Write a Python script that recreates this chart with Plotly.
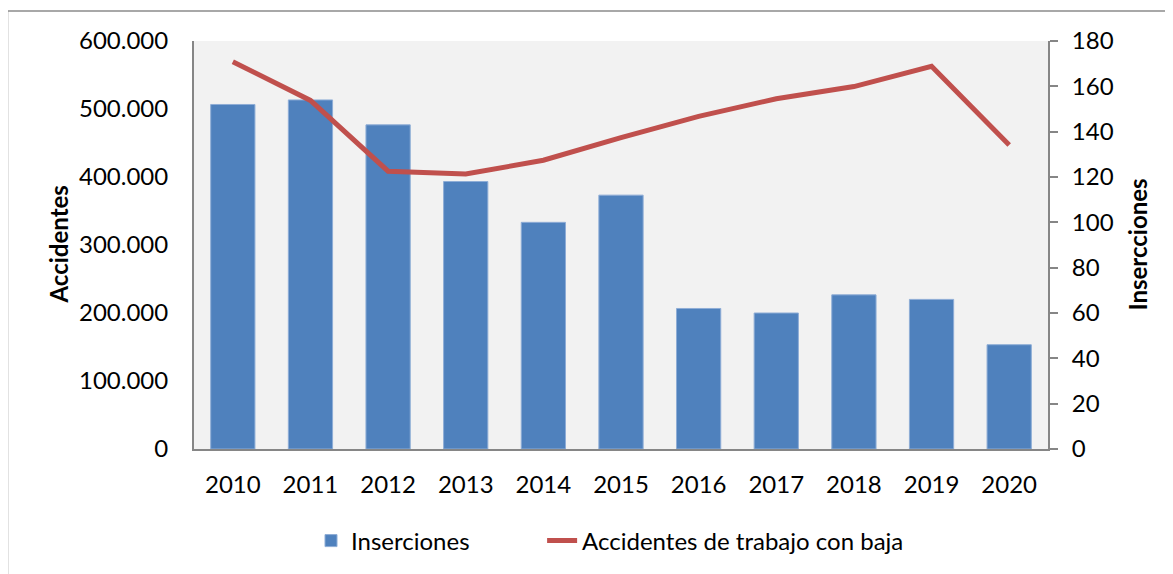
import plotly.graph_objects as go

years = ["2010", "2011", "2012", "2013", "2014", "2015", "2016", "2017", "2018", "2019", "2020"]
inserciones = [152, 154, 143, 118, 100, 112, 62, 60, 68, 66, 46]
accidentes = [569500, 512600, 408500, 404300, 424600, 458000, 489100, 515100, 533000, 562800, 447000]

# page has an 8px body margin; work in page pixels and compensate
OFF = 8
W, H = 1173 - OFF, 574 - OFF
L, T = 194 - OFF, 41 - OFF
R = W - (1048 - OFF)
B = H - (450 - OFF)
pw, ph = W - L - R, H - T - B

FONT = "Lato"
AX = "#868686"
FS = 24

fig = go.Figure()
fig.add_trace(go.Bar(
    x=years, y=inserciones, name="Inserciones" + "\u00a0" * 11, yaxis="y",
    marker=dict(color="#4F81BD", line=dict(color="#8EADD6", width=1)),
))
fig.add_trace(go.Scatter(
    x=years, y=accidentes, name="Accidentes de trabajo con baja", yaxis="y2",
    mode="lines", line=dict(color="#C0504D", width=5),
))

def px_x(p):  # page pixel -> paper
    return (p - OFF - L) / pw

def px_y(p):
    return (H - B - (p - OFF)) / ph

fig.update_layout(
    width=W, height=H,
    margin=dict(l=L, r=R, t=T, b=B, pad=0),
    paper_bgcolor="white", plot_bgcolor="#F2F2F2",
    separators=",.",
    font=dict(family=FONT, size=FS, color="black"),
    bargap=0.43,
    showlegend=True,
    legend=dict(orientation="h", x=px_x(311), xanchor="left", y=px_y(541), yanchor="middle",
                font=dict(size=FS, family=FONT), bgcolor="rgba(0,0,0,0)",
                traceorder="normal"),
    xaxis=dict(type="category", showline=True, linecolor=AX, linewidth=2, ticks="",
               showgrid=False, ticklabelstandoff=13, zeroline=False),
    yaxis=dict(side="right", range=[0, 180], dtick=20, showline=True, linecolor=AX, linewidth=2,
               ticks="outside", ticklen=8, tickcolor=AX, tickwidth=2, showgrid=False, zeroline=False,
               ticklabelstandoff=9),
    yaxis2=dict(side="left", overlaying="y", range=[0, 600000], dtick=100000, tickformat=",d",
                showline=True, linecolor=AX, linewidth=2, ticks="", showgrid=False, zeroline=False,
                ticklabelstandoff=19),
    annotations=[
        dict(text="<b>Accidentes</b>", xref="paper", yref="paper", x=px_x(59), y=px_y(245),
             xanchor="center", yanchor="middle", textangle=-90, showarrow=False,
             font=dict(size=FS, family=FONT)),
        dict(text="<b>Insercciones</b>", xref="paper", yref="paper", x=px_x(1138), y=px_y(245),
             xanchor="center", yanchor="middle", textangle=-90, showarrow=False,
             font=dict(size=FS, family=FONT)),
    ],
    shapes=[
        dict(type="rect", xref="paper", yref="paper", x0=px_x(7.5), x1=px_x(1200),
             y0=px_y(600), y1=px_y(11), line=dict(color="#8C8C8C", width=1.5), layer="below"),
    ],
)

fig.write_html("out.html")
